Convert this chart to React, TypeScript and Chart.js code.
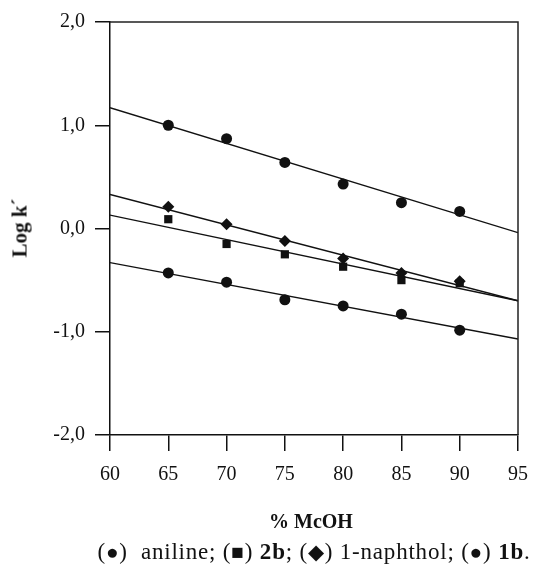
import React, { useEffect, useRef } from "react";
import { Chart, registerables } from "chart.js";

Chart.register(...registerables);

// x values (% MeOH)
const xValues = [65, 70, 75, 80, 85, 90];
// Log k' per compound
const aniline = [1.0, 0.87, 0.64, 0.43, 0.25, 0.165];
const naphthol = [0.21, 0.04, -0.12, -0.29, -0.43, -0.51];
const b2 = [0.09, -0.15, -0.25, -0.37, -0.5, -0.53];
const b1 = [-0.43, -0.52, -0.69, -0.75, -0.83, -0.985];

// regression lines, read at x = 60 and x = 95
const lineX = [60, 95];
const anilineFit = [1.17, -0.04];
const naphtholFit = [0.33, -0.7];
const b2Fit = [0.13, -0.7];
const b1Fit = [-0.33, -1.07];

const xTicks = [60, 65, 70, 75, 80, 85, 90, 95];
const yTicks = [-2, -1, 0, 1, 2];

const FONT = "'Liberation Serif', 'Times New Roman', serif";

const pts = (ys: number[]) => xValues.map((x, i) => ({ x, y: ys[i] }));
const fit = (ys: number[]) => lineX.map((x, i) => ({ x, y: ys[i] }));

const framePlugin = {
  id: "frame",
  afterDatasetsDraw(chart: any) {
    const { ctx, chartArea } = chart;
    ctx.save();
    ctx.strokeStyle = "#222";
    ctx.lineWidth = 1.5;
    ctx.beginPath();
    ctx.moveTo(chartArea.left, chartArea.top);
    ctx.lineTo(chartArea.right, chartArea.top);
    ctx.lineTo(chartArea.right, chartArea.bottom);
    ctx.stroke();
    ctx.restore();
  },
};

export default function App() {
  const ref = useRef<HTMLCanvasElement | null>(null);
  useEffect(() => {
    if (!ref.current) return;
    const lineDs = (data: any[]) => ({
      type: "line" as const,
      data,
      borderColor: "#111",
      borderWidth: 1.4,
      pointRadius: 0,
      fill: false,
    });
    const pointDs = (data: any[], style: string, r: number) => ({
      type: "scatter" as const,
      data,
      pointStyle: style,
      pointRadius: r,
      backgroundColor: "#111",
      borderColor: "#111",
      borderWidth: 0,
      showLine: false,
    });
    const chart = new Chart(ref.current, {
      type: "scatter",
      data: {
        datasets: [
          lineDs(fit(anilineFit)),
          lineDs(fit(naphtholFit)),
          lineDs(fit(b2Fit)),
          lineDs(fit(b1Fit)),
          pointDs(pts(aniline), "circle", 5.5),
          pointDs(pts(b2), "rect", 5.8),
          pointDs(pts(naphthol), "rectRot", 6),
          pointDs(pts(b1), "circle", 5.5),
        ] as any,
      },
      options: {
        animation: false,
        responsive: false,
        maintainAspectRatio: false,
        layout: { padding: { left: 0, right: 37, top: 21, bottom: 0 } },
        plugins: { legend: { display: false }, tooltip: { enabled: false } },
        scales: {
          x: {
            type: "linear",
            min: 60,
            max: 95,
            afterBuildTicks: (s: any) => {
              s.ticks = xTicks.map((v) => ({ value: v }));
            },
            afterFit: (s: any) => {
              s.height = 141;
            },
            ticks: {
              color: "#111",
              font: { family: FONT, size: 20 },
              padding: 12,
              maxRotation: 0,
            },
            grid: {
              drawOnChartArea: false,
              drawTicks: true,
              tickLength: 16,
              color: "#111",
              lineWidth: 1.5,
            },
            border: { display: true, color: "#111", width: 1.5 },
          },
          y: {
            type: "linear",
            min: -2,
            max: 2,
            afterBuildTicks: (s: any) => {
              s.ticks = yTicks.map((v) => ({ value: v }));
            },
            afterFit: (s: any) => {
              s.width = 110;
            },
            ticks: {
              color: "#111",
              font: { family: FONT, size: 20 },
              padding: 10,
              callback: (v: any) => Number(v).toFixed(1).replace(".", ","),
            },
            grid: {
              drawOnChartArea: false,
              drawTicks: true,
              tickLength: 15,
              color: "#111",
              lineWidth: 1.5,
            },
            border: { display: true, color: "#111", width: 1.5 },
          },
        },
      },
      plugins: [framePlugin],
    });
    return () => chart.destroy();
  }, []);

  const sym = { fontSize: 21, lineHeight: 1 };

  return (
    <div
      style={{
        position: "absolute",
        left: 0,
        top: 0,
        width: 555,
        height: 576,
        background: "#fff",
        fontFamily: FONT,
        color: "#111",
      }}
    >
      <canvas ref={ref} width={555} height={576} style={{ display: "block" }} />
      <div
        style={{
          position: "absolute",
          left: 20,
          top: 228,
          transform: "translate(-50%, -50%) rotate(-90deg)",
          fontWeight: "bold",
          fontSize: 21,
          whiteSpace: "nowrap",
          lineHeight: 1,
        }}
      >
        Log k´
      </div>
      <div
        style={{
          position: "absolute",
          left: 311,
          top: 521,
          transform: "translate(-50%, -50%)",
          fontWeight: "bold",
          fontSize: 20,
          whiteSpace: "nowrap",
          lineHeight: 1,
        }}
      >
        % McOH
      </div>
      <div
        style={{
          position: "absolute",
          left: 314,
          top: 551,
          transform: "translate(-50%, -50%)",
          fontSize: 23,
          letterSpacing: 0.8,
          whiteSpace: "nowrap",
          lineHeight: 1,
        }}
      >
        (<span style={sym}>●</span>)&nbsp; aniline; (<span style={sym}>■</span>){" "}
        <b>2b</b>; (<span style={sym}>◆</span>) 1-naphthol; (<span style={sym}>●</span>){" "}
        <b>1b</b>.
      </div>
    </div>
  );
}
